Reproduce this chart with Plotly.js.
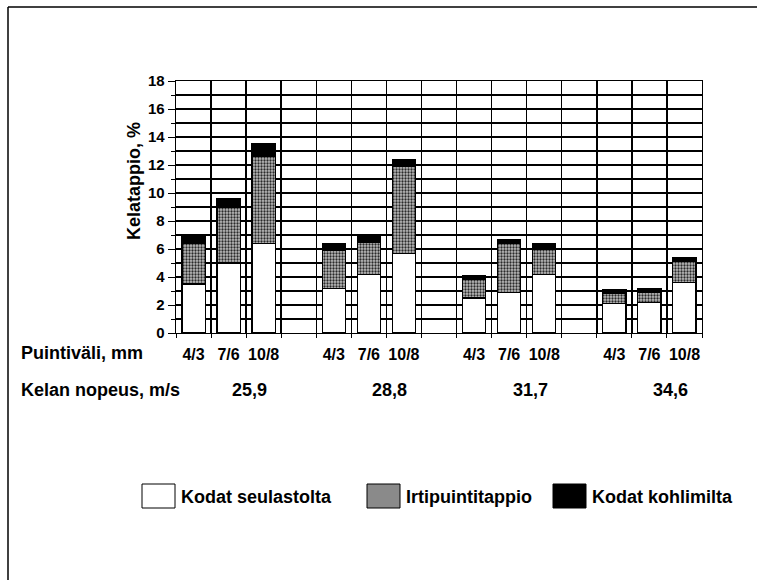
<!DOCTYPE html>
<html>
<head>
<meta charset="utf-8">
<script src="https://cdn.plot.ly/plotly-3.0.1.min.js"></script>
<style>html,body{margin:0;padding:0;background:#fff;}#chart{width:757px;height:580px;}</style>
</head>
<body>
<div id="chart"></div>
<script>
// ---- data ----
const speeds = ['25,9', '28,8', '31,7', '34,6'];          // Kelan nopeus, m/s
const gaps = ['4/3', '7/6', '10/8'];                        // Puintiväli, mm
const seriesNames = ['Kodat seulastolta', 'Irtipuintitappio', 'Kodat kohlimilta'];
const seulastolta = [3.5, 5.0, 6.4,  3.2, 4.2, 5.7,  2.5, 2.9, 4.2,  2.1, 2.2, 3.6];
const irtipuinti  = [2.9, 4.0, 6.2,  2.7, 2.3, 6.2,  1.3, 3.5, 1.8,  0.7, 0.7, 1.5];
const kohlimilta  = [0.5, 0.6, 0.9,  0.5, 0.4, 0.5,  0.3, 0.3, 0.4,  0.3, 0.25, 0.3];
const yTitle = 'Kelatappio, %';
const xRowTitle = 'Puintiväli, mm';
const speedRowTitle = 'Kelan nopeus, m/s';

// ---- positions: each speed group has 3 slots + 1 empty slot ----
const xs = [], ticktext = [];
speeds.forEach((s, g) => gaps.forEach((p, i) => { xs.push(g * 4 + i); ticktext.push(p); }));
const nSlots = speeds.length * 4 - 1;

const W = 757, H = 580;
const M = {l: 176, r: 55, t: 81, b: 247};
const pw = W - M.l - M.r, ph = H - M.t - M.b;
const px = v => (v - M.l) / pw;          // pixel -> paper x
const py = v => (H - M.b - v) / ph;      // pixel -> paper y

const F = 'Liberation Sans, Arial, sans-serif';
const line = {color: '#000', width: 1.2};
const grayPattern = {shape: '.', fgcolor: '#2a2a2a', bgcolor: '#bdbdbd', size: 3, solidity: 0.45};
const TF = (s) => ({family: F, size: s, weight: 'bold', color: '#000'});

const traces = [
  {type: 'bar', x: xs, y: seulastolta, name: seriesNames[0], width: 0.66,
   marker: {color: '#ffffff', line: line}},
  {type: 'bar', x: xs, y: irtipuinti, name: seriesNames[1], width: 0.66,
   marker: {color: '#8a8a8a', line: line, pattern: grayPattern}},
  {type: 'bar', x: xs, y: kohlimilta, name: seriesNames[2], width: 0.66,
   marker: {color: '#000000', line: line}}
];

const annotations = [
  {xref: 'paper', yref: 'paper', x: px(19), y: py(353), xanchor: 'left', yanchor: 'middle',
   text: xRowTitle, showarrow: false, font: TF(18)},
  {xref: 'paper', yref: 'paper', x: px(19), y: py(390), xanchor: 'left', yanchor: 'middle',
   text: speedRowTitle, showarrow: false, font: TF(18)},
  {xref: 'paper', yref: 'paper', x: px(134), y: py(181), xanchor: 'center', yanchor: 'middle',
   textangle: -90, text: yTitle, showarrow: false, font: TF(18)}
];
speeds.forEach((s, g) => annotations.push({
  xref: 'x', yref: 'paper', x: g * 4 + 1.6, y: py(390), xanchor: 'center', yanchor: 'middle',
  text: s, showarrow: false, font: TF(18)
}));

// custom legend
const legendItems = [
  {x0: 142, x1: 175, tx: 179, fill: '#ffffff', pat: null},
  {x0: 367, x1: 400, tx: 404, fill: '#8a8a8a', pat: grayPattern},
  {x0: 553, x1: 586, tx: 590, fill: '#000000', pat: null}
];
const shapes = [
  // page frame
  {type: 'line', xref: 'paper', yref: 'paper', x0: px(8), x1: px(8), y0: py(7), y1: py(580), line: {color: '#000', width: 1.5}},
  {type: 'line', xref: 'paper', yref: 'paper', x0: px(8), x1: px(757), y0: py(7), y1: py(7), line: {color: '#000', width: 1.5}}
];
legendItems.forEach((it, k) => {
  shapes.push({type: 'rect', xref: 'paper', yref: 'paper', x0: px(it.x0), x1: px(it.x1), y0: py(484), y1: py(508),
    fillcolor: it.fill, line: {color: '#000', width: 1}});
  annotations.push({xref: 'paper', yref: 'paper', x: px(it.tx), y: py(497), xanchor: 'left', yanchor: 'middle',
    text: seriesNames[k], showarrow: false, font: TF(18)});
});

const layout = {
  width: W, height: H, margin: M, barmode: 'stack', showlegend: false,
  paper_bgcolor: '#fff', plot_bgcolor: '#fff',
  font: {family: F, color: '#000'},
  xaxis: {range: [-0.5, nSlots - 0.5], tickmode: 'array', tickvals: xs, ticktext: ticktext,
          showgrid: false, zeroline: false, showline: true, linecolor: '#000', linewidth: 1.3, mirror: true,
          ticks: '', ticklabelstandoff: 6,
          tickfont: TF(16),
          minor: {tickmode: 'linear', tick0: -0.5, dtick: 1, showgrid: true, gridcolor: '#000', gridwidth: 1.5,
                  ticks: 'outside', ticklen: 4, tickcolor: '#000'}},
  yaxis: {range: [0, 18], dtick: 2, tick0: 0, showgrid: true, gridcolor: '#000', gridwidth: 1.3,
          zeroline: false, showline: true, linecolor: '#000', linewidth: 1.3, mirror: true,
          ticks: 'outside', ticklen: 7, tickcolor: '#000',
          tickfont: TF(15),
          minor: {dtick: 1, showgrid: true, gridcolor: '#000', gridwidth: 1.3, ticks: 'outside', ticklen: 4, tickcolor: '#000'}},
  annotations: annotations, shapes: shapes
};

Plotly.newPlot('chart', traces, layout, {staticPlot: true, displayModeBar: false});
</script>
</body>
</html>
